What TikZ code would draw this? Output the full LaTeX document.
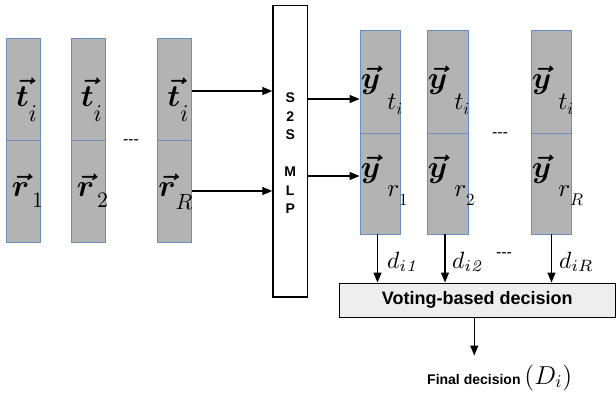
\documentclass[tikz,border=0pt]{standalone}
\usepackage{amsmath}
\usepackage{graphicx}
\usepackage{fontspec}
\newfontfamily\lsans{Liberation Sans}
\usetikzlibrary{arrows.meta}
\definecolor{cellgray}{HTML}{B3B3B3}
\definecolor{cellblue}{HTML}{6C8EBF}
\definecolor{votegray}{HTML}{EEEEEE}
\newcommand{\vt}{\boldsymbol{\vec{t}}}
\newcommand{\vr}{\boldsymbol{\vec{r}}}
\newcommand{\vy}{\boldsymbol{\vec{y}}}
\newcommand{\mbig}[2]{\scalebox{#1}{$#2$}}
\newcommand{\mainv}[1]{\mbig{3.1}{#1}}
\newcommand{\subv}[4]{\kern#1pt\lower#2pt\hbox{\mbig{#3}{#4}}}
\newcommand{\tsub}{\mainv{\vt}\subv{0}{15}{2.4}{i}}
\newcommand{\rsub}[3]{\mainv{\vr}\subv{#1}{#2}{2.2}{#3}}
\newcommand{\ysub}[4]{\mainv{\vy}\subv{7}{#2}{2.5}{#1}\subv{0}{#4}{1.7}{#3}}
\begin{document}
\begin{tikzpicture}[x=1pt,y=-1pt,
  cell/.style={draw=cellblue, fill=cellgray, line width=0.8pt, inner sep=0pt},
  lcell/.style={cell, minimum width=34pt, minimum height=102pt},
  ytcell/.style={cell, minimum width=40pt, minimum height=103pt},
  yrcell/.style={cell, minimum width=40pt, minimum height=101pt},
  vlab/.style={inner sep=0pt, anchor=base west},
  arr/.style={-{Triangle[length=10pt,width=8pt]}, line width=1.3pt},
  dashtxt/.style={font=\lsans\fontsize{16}{16}\selectfont, inner sep=0pt},
  lab/.style={inner sep=0pt, anchor=base west},
]
\useasboundingbox (0,0) rectangle (616,394);
% left columns
\node[lcell] (t1) at (23,89) {};
\node[lcell] (r1) at (23,191) {};
\node[lcell] (t2) at (88,89) {};
\node[lcell] (r2) at (88,191) {};
\node[lcell] (t3) at (174.5,89) {};
\node[lcell] (r3) at (174.5,191) {};
\node[vlab] (t1l) at ([xshift=10pt,yshift=-69pt]t1.north west) {\tsub};
\node[vlab] (t2l) at ([xshift=10pt,yshift=-69pt]t2.north west) {\tsub};
\node[vlab] (t3l) at ([xshift=10pt,yshift=-69pt]t3.north west) {\tsub};
\node[vlab] (r1l) at ([xshift=6pt,yshift=-57pt]r1.north west) {\rsub{3}{11}{1}};
\node[vlab] (r2l) at ([xshift=6pt,yshift=-57pt]r2.north west) {\rsub{3}{11}{2}};
\node[vlab] (r3l) at ([xshift=1pt,yshift=-57pt]r3.north west) {\rsub{0}{13}{R}};
\node[dashtxt] (ld) at (131,142) {{-}{-}{-}};
% MLP
\node[draw, line width=1.5pt, minimum width=34.5pt, minimum height=291.5pt, inner sep=0pt] (mlp) at (290.25,151.25) {};
\node[font=\lsans\bfseries\fontsize{14}{18.5}\selectfont, align=center, inner sep=0pt] (mlptxt) at (290.25,153.5) {S\\2\\S\\[18.5pt]M\\L\\P};
% right columns
\node[ytcell] (yt1) at (380,81.5) {};
\node[yrcell] (yr1) at (380,183.5) {};
\node[ytcell, minimum width=41pt] (yt2) at (447.5,81.5) {};
\node[yrcell, minimum width=41pt] (yr2) at (447.5,183.5) {};
\node[ytcell] (yt3) at (551,81.5) {};
\node[yrcell] (yr3) at (551,183.5) {};
\node[vlab] (yt1l) at ([xshift=1pt,yshift=-59pt]yt1.north west) {\ysub{t}{21}{i}{26}};
\node[vlab] (yt2l) at ([xshift=1pt,yshift=-59pt]yt2.north west) {\ysub{t}{21}{i}{26}};
\node[vlab] (yt3l) at ([xshift=1pt,yshift=-59pt]yt3.north west) {\ysub{t}{21}{i}{26}};
\node[vlab] (yr1l) at ([xshift=1pt,yshift=-45pt]yr1.north west) {\ysub{r}{19}{1}{28}};
\node[vlab] (yr2l) at ([xshift=1pt,yshift=-45pt]yr2.north west) {\ysub{r}{19}{2}{28}};
\node[vlab] (yr3l) at ([xshift=1pt,yshift=-45pt]yr3.north west) {\ysub{r}{19}{R}{28}};
\node[dashtxt] (rd) at (500,135) {{-}{-}{-}};
% arrows into MLP
\draw[arr] ([yshift=-2pt]t3.east) -- ([yshift=-2pt]t3.east -| mlp.west);
\draw[arr] (r3.east) -- (r3.east -| mlp.west);
% arrows out of MLP
\draw[arr] ([yshift=-17.5pt]yt1.west -| mlp.east) -- ([yshift=-17.5pt]yt1.west);
\draw[arr] ([yshift=7.5pt]yr1.west -| mlp.east) -- ([yshift=7.5pt]yr1.west);
% voting box
\node[draw, fill=votegray, line width=1pt, minimum width=276pt, minimum height=34pt, inner sep=0pt,
  font=\lsans\bfseries\fontsize{18}{20}\selectfont] (vote) at (477.25,300) {Voting-based decision};
\draw[arr] ([xshift=-2.5pt]yr1.south) -- ([xshift=-2.5pt]yr1.south |- vote.north);
\draw[arr] ([xshift=-2.5pt]yr2.south) -- ([xshift=-2.5pt]yr2.south |- vote.north);
\draw[arr] ([xshift=0.5pt]yr3.south) -- ([xshift=0.5pt]yr3.south |- vote.north);
\node[lab] (d1) at (387,268) {\mbig{2.35}{d_{i\mathit{1}}}};
\node[lab] (d2) at (452,268) {\mbig{2.35}{d_{i\mathit{2}}}};
\node[lab] (dR) at (559,268) {\mbig{2.35}{d_{iR}}};
\node[dashtxt] (bd) at (504,255) {{-}{-}{-}};
% final
\node[font=\lsans\bfseries\fontsize{14}{16}\selectfont, inner sep=0pt, anchor=base west] (fin) at (427,384) {Final decision \mbig{1.8}{(D_i)}};
\coordinate (fend) at ([xshift=-3pt,yshift=-38pt]vote.south);
\draw[arr] ([xshift=-3pt]vote.south) -- (fend);
\end{tikzpicture}
\end{document}
